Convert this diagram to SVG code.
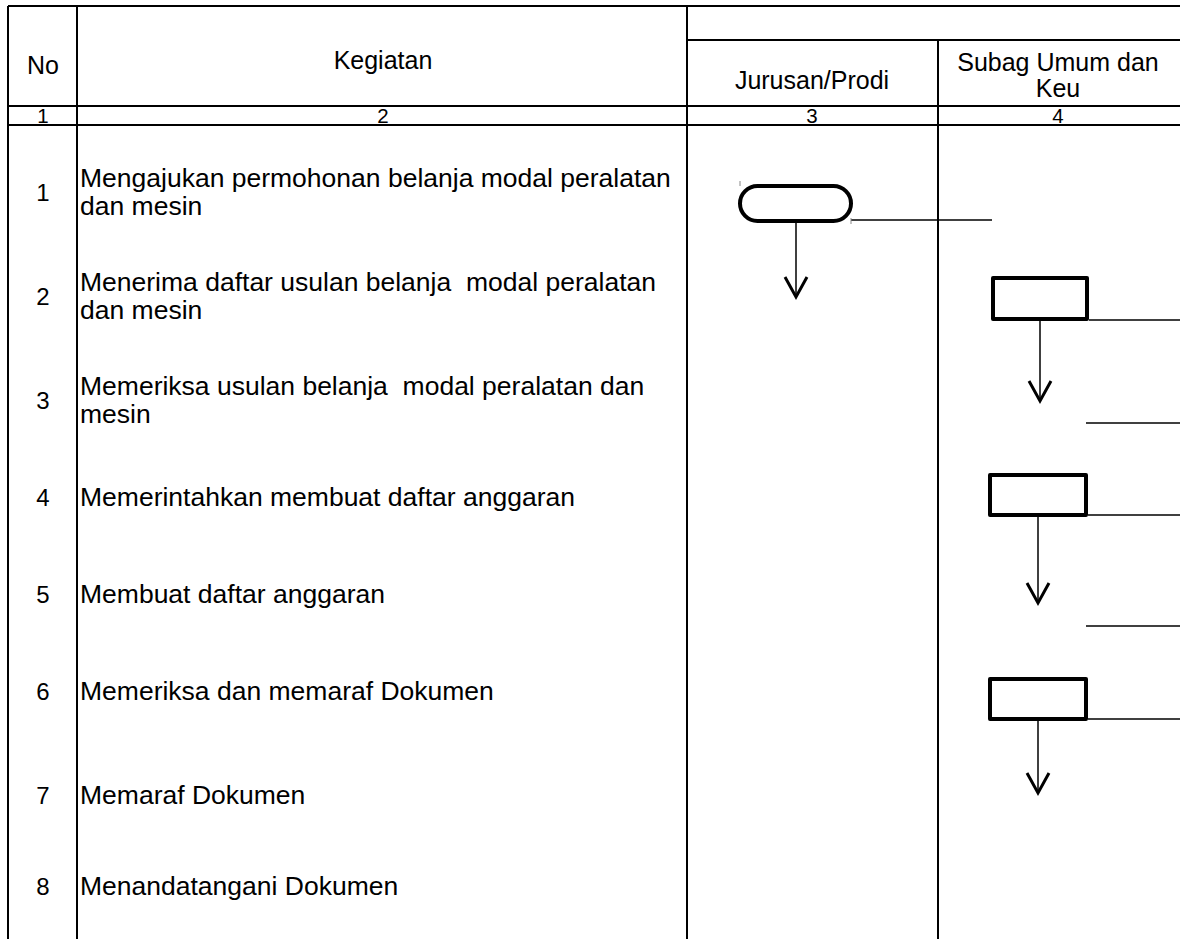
<svg xmlns="http://www.w3.org/2000/svg" width="1180" height="939" viewBox="0 0 1180 939">
<style>
  .grid { stroke: #000; stroke-width: 2; fill: none; }
  .t { font-family: "Liberation Sans", Arial, sans-serif; font-size: 26.5px; fill: #000; dominant-baseline: central; }
  .h { font-family: "Liberation Sans", Arial, sans-serif; font-size: 25px; fill: #000; dominant-baseline: central; text-anchor: middle; }
  .d { font-family: "Liberation Sans", Arial, sans-serif; font-size: 20.5px; fill: #000; text-anchor: middle; }
  .n { font-family: "Liberation Sans", Arial, sans-serif; font-size: 24px; fill: #000; dominant-baseline: central; text-anchor: middle; }
  .shape { fill: #fff; stroke: #000; stroke-width: 4; stroke-linejoin: round; }
  .conn { stroke: #000; stroke-width: 1.5; fill: none; }
  .head { stroke: #000; stroke-width: 3; fill: none; stroke-linejoin: miter; }
  .tick { stroke: #888; stroke-width: 1; }
</style>
<rect width="1180" height="939" fill="#fff"/>
<g id="table">
  <line class="grid" x1="8" y1="6" x2="1180" y2="6"/>
  <line class="grid" x1="8" y1="6" x2="8" y2="939"/>
  <line class="grid" x1="77" y1="6" x2="77" y2="939"/>
  <line class="grid" x1="687" y1="6" x2="687" y2="939"/>
  <line class="grid" x1="687" y1="40" x2="1180" y2="40"/>
  <line class="grid" x1="938" y1="40" x2="938" y2="939"/>
  <line class="grid" x1="8" y1="106" x2="1180" y2="106"/>
  <line class="grid" x1="8" y1="125" x2="1180" y2="125"/>
</g>
<g id="headers">
  <text class="h" x="43" y="65">No</text>
  <text class="h" x="383" y="60">Kegiatan</text>
  <text class="h" x="812" y="80">Jurusan/Prodi</text>
  <text class="h" x="1058" y="62">Subag Umum dan</text>
  <text class="h" x="1058" y="88">Keu</text>
  <text class="d" x="43" y="123">1</text>
  <text class="d" x="383" y="123">2</text>
  <text class="d" x="812" y="123">3</text>
  <text class="d" x="1058" y="123">4</text>
</g>
<g id="rows">
  <text class="n" x="43" y="192">1</text>
  <text class="t" x="80" y="178">Mengajukan permohonan belanja modal peralatan</text>
  <text class="t" x="80" y="206">dan mesin</text>
  <text class="n" x="43" y="296">2</text>
  <text class="t" x="80" y="282" xml:space="preserve">Menerima daftar usulan belanja  modal peralatan</text>
  <text class="t" x="80" y="310">dan mesin</text>
  <text class="n" x="43" y="400">3</text>
  <text class="t" x="80" y="386" xml:space="preserve">Memeriksa usulan belanja  modal peralatan dan</text>
  <text class="t" x="80" y="414">mesin</text>
  <text class="n" x="43" y="497">4</text>
  <text class="t" x="80" y="497">Memerintahkan membuat daftar anggaran</text>
  <text class="n" x="43" y="594">5</text>
  <text class="t" x="80" y="594">Membuat daftar anggaran</text>
  <text class="n" x="43" y="691">6</text>
  <text class="t" x="80" y="691">Memeriksa dan memaraf Dokumen</text>
  <text class="n" x="43" y="795">7</text>
  <text class="t" x="80" y="795">Memaraf Dokumen</text>
  <text class="n" x="43" y="886">8</text>
  <text class="t" x="80" y="886">Menandatangani Dokumen</text>
</g>
<g id="connectors">
  <line class="conn" x1="851" y1="220" x2="992" y2="220"/>
  <line class="conn" x1="796" y1="222" x2="796" y2="295"/>
  <polyline class="head" points="785,277 796,297 807,277"/>
  <line class="conn" x1="1089" y1="320" x2="1180" y2="320"/>
  <line class="conn" x1="1040" y1="321" x2="1040" y2="400"/>
  <polyline class="head" points="1029,381 1040,401 1051,381"/>
  <line class="conn" x1="1086" y1="423" x2="1180" y2="423"/>
  <line class="conn" x1="1088" y1="515" x2="1180" y2="515"/>
  <line class="conn" x1="1038" y1="517" x2="1038" y2="601"/>
  <polyline class="head" points="1027,583 1038,603 1049,583"/>
  <line class="conn" x1="1086" y1="626" x2="1180" y2="626"/>
  <line class="conn" x1="1088" y1="719" x2="1180" y2="719"/>
  <line class="conn" x1="1038" y1="721" x2="1038" y2="791"/>
  <polyline class="head" points="1027,773 1038,793 1049,773"/>
</g>
<g id="node-start">
  <rect class="shape" x="740" y="186" width="111" height="35" rx="17.5"/>
  <line class="tick" x1="740" y1="181" x2="740" y2="186"/>
  <line class="tick" x1="851" y1="218" x2="851" y2="224"/>
</g>
<g id="node-2">
  <rect class="shape" x="993" y="278" width="94" height="41"/>
</g>
<g id="node-4">
  <rect class="shape" x="990" y="475" width="96" height="40"/>
</g>
<g id="node-6">
  <rect class="shape" x="990" y="679" width="96" height="40"/>
</g>
</svg>
